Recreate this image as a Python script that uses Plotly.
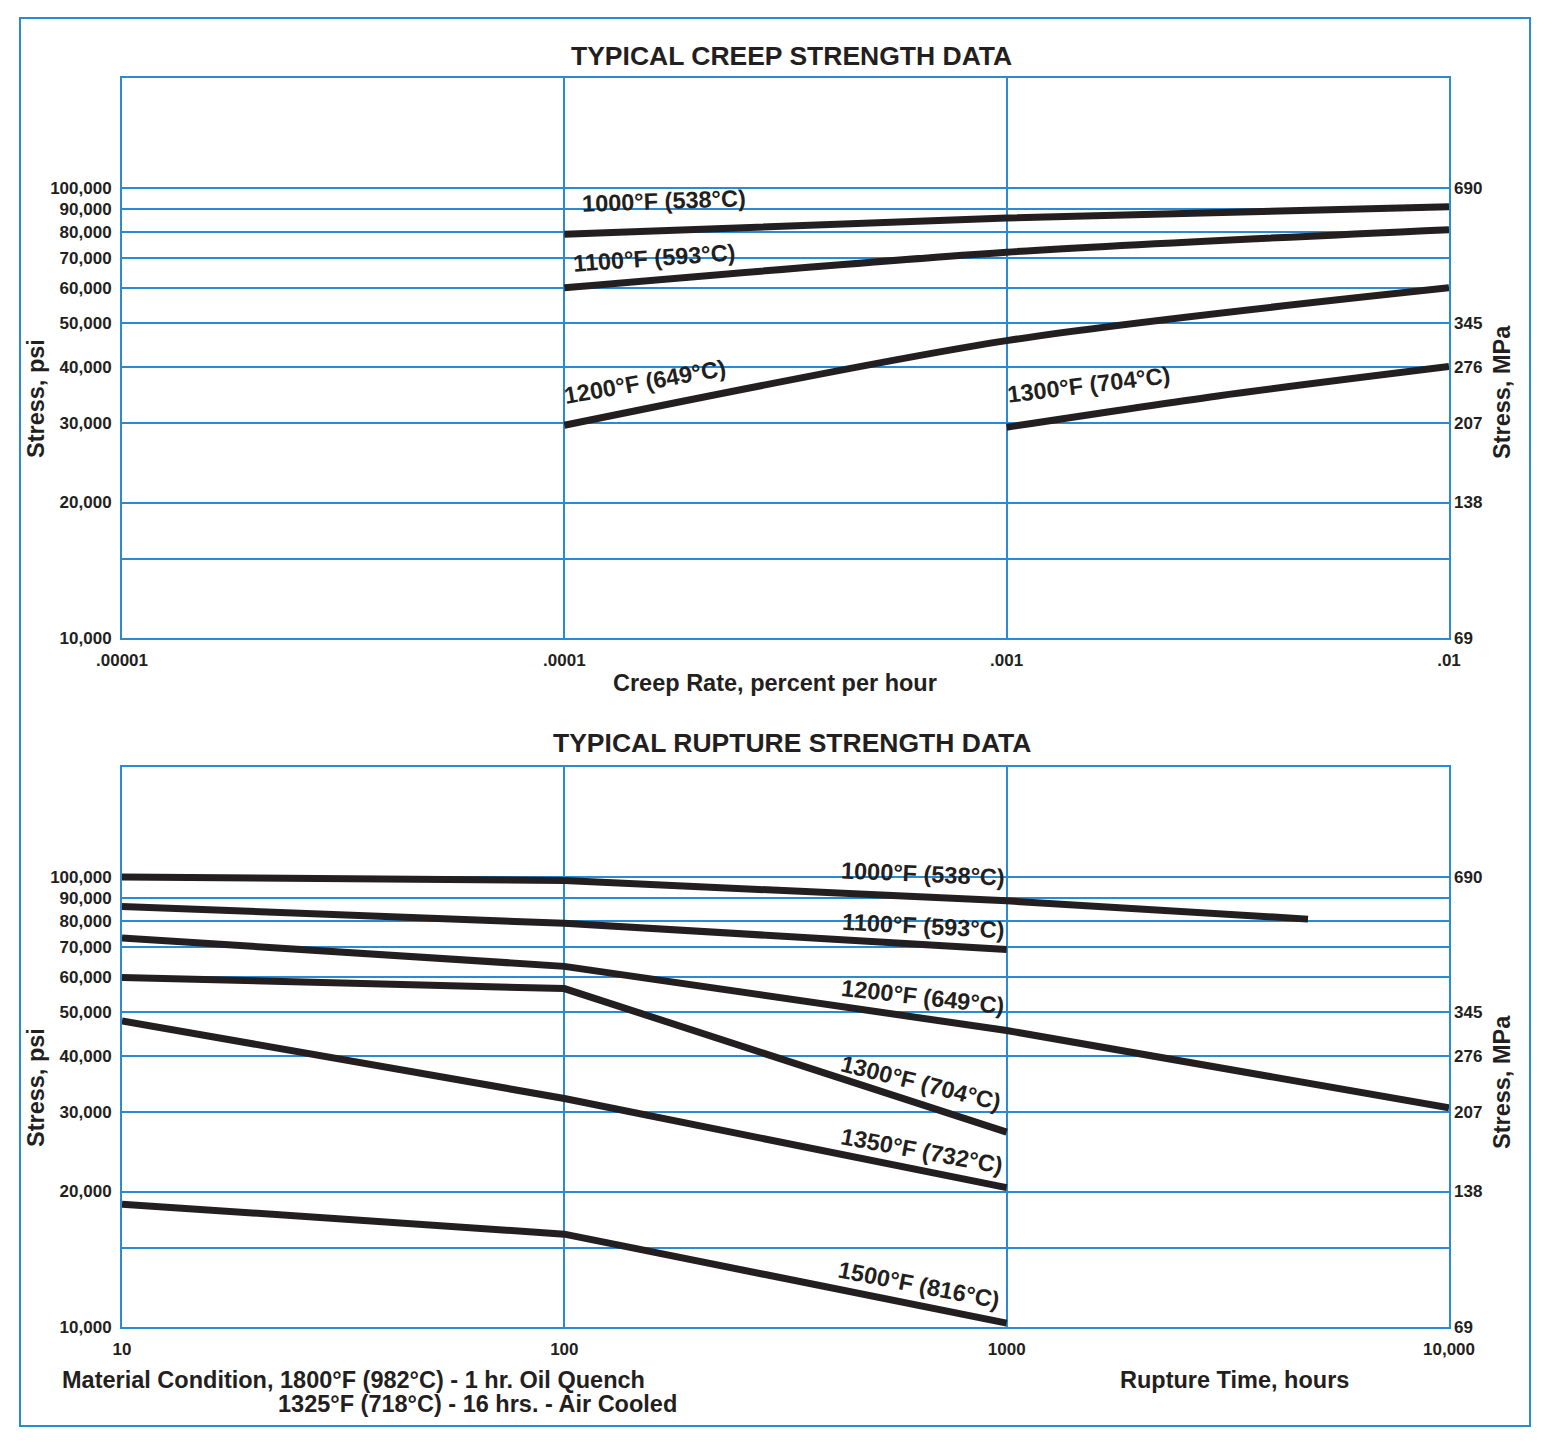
import plotly.graph_objects as go

# ---------------- data ----------------
creep_rate = [0.0001, 0.001, 0.01]
creep_1000F = [78900, 85800, 90800]
creep_1100F = [60000, 72000, 80800]
creep_1200F = [29700, 45800, 60000]
creep_rate_1300 = [0.001, 0.003, 0.01]
creep_1300F = [29400, 34500, 40100]

rupture_time_1000 = [10, 100, 1000, 4800]
rupture_1000F = [100000, 98200, 88500, 80600]
rupture_time = [10, 100, 1000]
rupture_1100F = [86000, 78900, 69000]
rupture_time_1200 = [10, 100, 1000, 10000]
rupture_1200F = [73200, 63300, 45600, 30700]
rupture_1300F = [59800, 56500, 27100]
rupture_1350F = [47900, 32200, 20400]
rupture_1500F = [18750, 16080, 10200]

psi_ticks = [10000, 15000, 20000, 30000, 40000, 50000, 60000, 70000, 80000, 90000, 100000]
psi_labels = ["10,000", "", "20,000", "30,000", "40,000", "50,000", "60,000",
              "70,000", "80,000", "90,000", "100,000"]
mpa_ticks = [10000, 20000, 30000, 40000, 50000, 100000]
mpa_labels = ["69", "138", "207", "276", "345", "690"]
creep_ticks = [0.00001, 0.0001, 0.001, 0.01]
creep_labels = [".00001", ".0001", ".001", ".01"]
rupture_ticks = [10, 100, 1000, 10000]
rupture_labels = ["10", "100", "1000", "10,000"]

# label positions (log10 data coords) and angles
creep_label_text = ["1000°F (538°C)", "1100°F (593°C)", "1200°F (649°C)", "1300°F (704°C)"]
creep_label_x = [-3.774, -3.796, -3.818, -2.815]
creep_label_y = [4.972, 4.845, 4.569, 4.562]
creep_label_angle = [-2, -4, -10, -7]

rupture_label_text = ["1000°F (538°C)", "1100°F (593°C)", "1200°F (649°C)",
                      "1300°F (704°C)", "1350°F (732°C)", "1500°F (816°C)"]
rupture_label_x = [2.811, 2.811, 2.811, 2.806, 2.808, 2.802]
rupture_label_y = [5.007, 4.892, 4.734, 4.543, 4.392, 4.093]
rupture_label_angle = [2.5, 3, 6.5, 14, 10.5, 11]

# ---------------- style ----------------
OFF = 8  # page body margin
W, H = 1553 - 2 * OFF, 1444 - 2 * OFF
L, T = 122 - OFF, 78 - OFF
R = W - (1449 - OFF)
B = H - (1327 - OFF)
PW, PH = W - L - R, H - T - B
BLUE = "#2a8ad3"
INK = "#231f20"
FONT = "Liberation Sans, Arial, Helvetica, sans-serif"


def px(x):
    return (x - OFF - L) / PW


def py(y):
    return (H - B - (y - OFF)) / PH


fig = go.Figure()

line_style = dict(color=INK, width=7)
for xs, ys in [(creep_rate, creep_1000F), (creep_rate, creep_1100F),
               (creep_rate, creep_1200F), (creep_rate_1300, creep_1300F)]:
    fig.add_trace(go.Scatter(x=xs, y=ys, mode="lines", xaxis="x", yaxis="y",
                             line=dict(shape="spline", smoothing=0.8, **line_style),
                             showlegend=False, hoverinfo="skip"))

for xs, ys in [(rupture_time_1000, rupture_1000F), (rupture_time, rupture_1100F),
               (rupture_time_1200, rupture_1200F), (rupture_time, rupture_1300F),
               (rupture_time, rupture_1350F), (rupture_time, rupture_1500F)]:
    fig.add_trace(go.Scatter(x=xs, y=ys, mode="lines", xaxis="x2", yaxis="y2",
                             line=line_style, showlegend=False, hoverinfo="skip"))

# transparent carriers so the secondary (MPa) axes are drawn
fig.add_trace(go.Scatter(x=creep_rate, y=creep_1000F, mode="lines", xaxis="x", yaxis="y3",
                         line=dict(color="rgba(0,0,0,0)"), showlegend=False, hoverinfo="skip"))
fig.add_trace(go.Scatter(x=rupture_time, y=rupture_1100F, mode="lines", xaxis="x2", yaxis="y4",
                         line=dict(color="rgba(0,0,0,0)"), showlegend=False, hoverinfo="skip"))

tickfont = dict(family=FONT, size=17, color=INK, weight="bold")
common = dict(type="log", showgrid=True, gridcolor=BLUE, gridwidth=2,
              showline=True, mirror=True, linecolor=BLUE, linewidth=2,
              ticks="", zeroline=False, tickfont=tickfont)

top_dom = [py(638), 1.0]
bot_dom = [0.0, py(767)]
yr = [4, 5.2444]

sec = dict(type="log", side="right", range=yr, tickvals=mpa_ticks, ticktext=mpa_labels,
           showgrid=False, showline=False, zeroline=False, ticks="", tickfont=tickfont,
           ticklabelstandoff=4)

fig.update_layout(
    width=W, height=H,
    margin=dict(l=L, r=R, t=T, b=B),
    paper_bgcolor="white", plot_bgcolor="white",
    font=dict(family=FONT, color=INK),
    xaxis=dict(common, domain=[0, 1], anchor="y", range=[-5, -2],
               tickvals=creep_ticks, ticktext=creep_labels, ticklabelstandoff=6),
    yaxis=dict(common, domain=top_dom, anchor="x", range=yr,
               tickvals=psi_ticks, ticktext=psi_labels, ticklabelstandoff=5),
    xaxis2=dict(common, domain=[0, 1], anchor="y2", range=[1, 4],
                tickvals=rupture_ticks, ticktext=rupture_labels, ticklabelstandoff=6),
    yaxis2=dict(common, domain=bot_dom, anchor="x2", range=yr,
                tickvals=psi_ticks, ticktext=psi_labels, ticklabelstandoff=5),
    yaxis3=dict(sec, overlaying="y", anchor="x"),
    yaxis4=dict(sec, overlaying="y2", anchor="x2"),
)

ann = []
lab_font = dict(family=FONT, size=23.5, color=INK, weight="bold")
for t, x, y, a in zip(creep_label_text, creep_label_x, creep_label_y, creep_label_angle):
    ann.append(dict(text=t, x=x, y=y, xref="x", yref="y", showarrow=False,
                    textangle=a, font=lab_font, xanchor="center", yanchor="middle"))
for t, x, y, a in zip(rupture_label_text, rupture_label_x, rupture_label_y, rupture_label_angle):
    ann.append(dict(text=t, x=x, y=y, xref="x2", yref="y2", showarrow=False,
                    textangle=a, font=lab_font, xanchor="center", yanchor="middle"))

title_font = dict(family=FONT, size=26.5, color=INK, weight="bold")
axis_font = dict(family=FONT, size=23.5, color=INK, weight="bold")


def pann(text, x, y, font, xanchor="center", angle=0):
    ann.append(dict(text=text, x=px(x), y=py(y), xref="paper", yref="paper",
                    showarrow=False, font=font, xanchor=xanchor, yanchor="middle",
                    textangle=angle))


pann("TYPICAL CREEP STRENGTH DATA", 792, 56, title_font)
pann("TYPICAL RUPTURE STRENGTH DATA", 792, 743, title_font)
pann("Creep Rate, percent per hour", 775, 683, axis_font)
pann("Rupture Time, hours", 1234, 1380, axis_font)
pann("Material Condition, 1800°F (982°C) - 1 hr. Oil Quench", 60, 1380, axis_font, "left")
pann("1325°F (718°C) - 16 hrs. - Air Cooled", 276, 1404, axis_font, "left")
pann("Stress, psi", 36, 399, axis_font, angle=-90)
pann("Stress, psi", 36, 1088, axis_font, angle=-90)
pann("Stress, MPa", 1502, 392, axis_font, angle=-90)
pann("Stress, MPa", 1502, 1082, axis_font, angle=-90)

fig.update_layout(annotations=ann)

fig.add_shape(type="rect", xref="paper", yref="paper",
              x0=px(20), x1=px(1530), y0=py(1426), y1=py(18),
              line=dict(color=BLUE, width=2), layer="below")

fig.write_html("out.html")
